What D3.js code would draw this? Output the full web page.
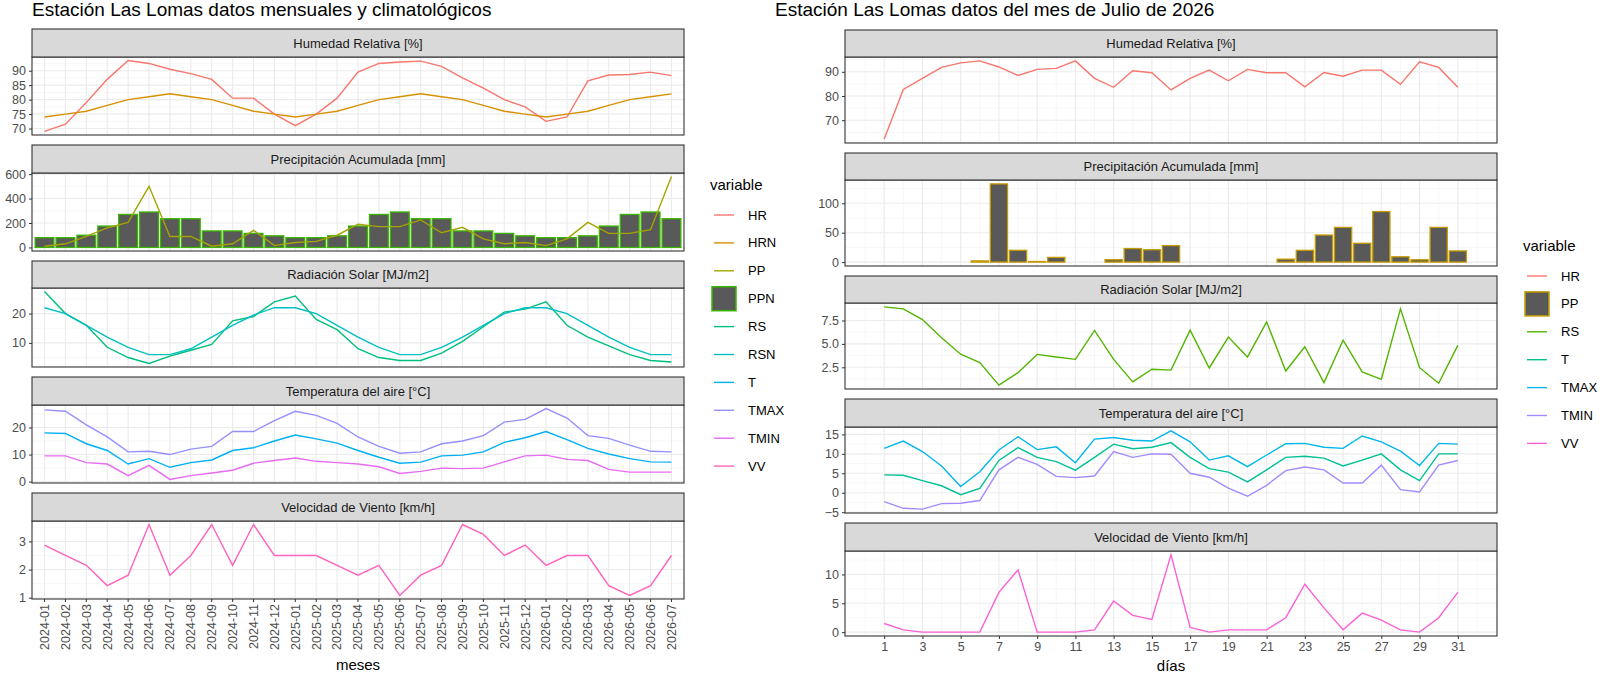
<!DOCTYPE html>
<html><head><meta charset="utf-8">
<script src="https://cdn.jsdelivr.net/npm/d3@7"></script>
<style>body{margin:0;background:#fff}svg{font-family:"Liberation Sans",Arial,sans-serif}</style>
</head><body><svg id="c" width="1600" height="676"></svg>
<script>
// ---- monthly data (left) ----
const months = ["2024-01","2024-02","2024-03","2024-04","2024-05","2024-06","2024-07","2024-08","2024-09","2024-10","2024-11","2024-12","2025-01","2025-02","2025-03","2025-04","2025-05","2025-06","2025-07","2025-08","2025-09","2025-10","2025-11","2025-12","2026-01","2026-02","2026-03","2026-04","2026-05","2026-06","2026-07"];
const mHR  = [69,71.5,79,87,93.5,92.5,90.5,89,87,80.5,80.5,75,71,75,80.5,89.5,92.5,93,93.3,91.5,87.5,84,80,77.5,72.5,74,86.5,88.5,88.7,89.5,88.3];
const mHRN = [74,75,76,78,80,81,82,81,80,78,76,75,74,75,76,78,80,81,82,81,80,78,76,75,74,75,76,78,80,81,82];
const mPP  = [10,30,90,160,205,500,90,90,10,30,140,15,40,50,100,190,170,170,225,120,165,70,30,40,15,70,205,115,115,145,580];
const mPPN = [80,80,100,175,270,290,235,235,135,135,115,95,80,80,95,175,270,290,235,235,135,135,115,95,80,80,95,175,270,290,235];
const mRS  = [27.5,20,16,8.5,5,3,5.5,7.5,9.5,17.5,19,24,26,18,14.5,8,5,4,4,6.5,10.5,15.5,20.5,21.5,24,16,12,9,6,4,3.5];
const mRSN = [22,20,16,12,8.5,6,6,8,12,16,19.5,22,22,20,16,12,8.5,6,6,8.5,12,16,20,22,22,20,16,12,8.5,6,6];
const mT    = [18,17.8,14,11.5,6.5,8.5,5.3,7,8,11.5,12.5,15,17.2,15.8,14.2,11.5,9,6.8,7.2,9.5,9.8,11,14.5,16.2,18.5,15.5,12.3,10.2,8.5,7.3,7.2];
const mTMAX = [26.5,26,21,16.5,11,11.2,10,12,13,18.5,18.5,22.5,26,24.5,21.5,16.5,13,10.5,11,14,15,17,22,23,27,23.5,17,16,13.5,11.2,11];
const mTMIN = [9.5,9.5,7,6.5,2.2,6,0.8,2.2,3.2,4.2,6.8,7.8,8.7,7.5,7,6.5,5.5,3,3.8,5,4.8,5,7.3,9.5,9.8,8.2,7.8,4.5,3.5,3.5,3.5];
const mVV  = [2.87,2.5,2.15,1.43,1.8,3.6,1.8,2.5,3.6,2.15,3.6,2.5,2.5,2.5,2.15,1.8,2.15,1.08,1.8,2.15,3.6,3.25,2.5,2.87,2.15,2.5,2.5,1.43,1.08,1.43,2.5];

// ---- daily data (right) ----
const days = d3.range(1, 32);
const dHR = [62.2,82.7,87.3,91.8,93.7,94.5,92,88.5,91,91.4,94.5,87.3,83.6,90.4,89.6,82.5,87.3,90.7,86.3,91,89.6,89.6,83.8,89.7,88.2,90.7,90.7,84.8,94.1,91.8,83.6];
const dPP = [0,0,0,0,0,2,133,20,1,8,0,0,4,23,21,28,0,0,0,0,0,5,20,46,59,32,86,9,4,59,19];
const dRS = [8.95,8.74,7.6,5.66,3.9,3.0,0.6,1.93,3.88,3.6,3.35,6.44,3.35,0.94,2.29,2.2,6.47,2.43,5.73,3.6,7.36,2.1,4.7,0.87,5.4,2.0,1.22,8.74,2.46,0.8,4.84];
const dT    = [4.6,4.5,3.1,1.8,-0.5,1.1,8.3,11.6,9.1,8,5.8,9.1,12.5,11.3,11.7,12.9,9.1,6.2,5.3,2.8,5.9,9.1,9.4,8.9,6.9,8.4,10,5.9,3.1,10,10];
const dTMAX = [11.4,13.3,10.6,6.9,1.6,5.4,11,14.4,11.1,11.8,7.7,13.8,14.2,13.5,13.3,15.9,13.1,8.4,9.5,6.7,9.7,12.6,12.7,11.7,11.4,14.6,13.1,10.7,7,12.7,12.5];
const dTMIN = [-2.3,-4,-4.2,-2.8,-2.7,-2,5.9,9.1,7.3,4.2,3.9,4.3,10.6,9.1,10,9.9,5,4,1.2,-0.9,1.9,5.7,6.6,5.9,2.5,2.5,7.1,0.8,0.2,7.1,8.3];
const dVV = [1.5,0.4,0,0,0,0,6.9,10.8,0,0,0,0.4,5.4,2.9,2.2,13.4,0.8,0,0.4,0.4,0.4,2.5,8.3,4.2,0.4,3.3,2.1,0.4,0,2.5,6.9];

const leftVars = ["HR","HRN","PP","PPN","RS","RSN","T","TMAX","TMIN","VV"];
const leftCols = ["#F8766D","#D89000","#A3A500","#39B600","#00BF7D","#00BFC4","#00B0F6","#9590FF","#E76BF3","#FF62BC"];
const rightVars = ["HR","PP","RS","T","TMAX","TMIN","VV"];
const rightCols = ["#F8766D","#C49A00","#53B400","#00C094","#00B6EB","#A58AFF","#FB61D7"];

const svg = d3.select("#c");
const cL = d3.scaleOrdinal(leftVars, leftCols);
const cR = d3.scaleOrdinal(rightVars, rightCols);

function yDomainOf(arrs, bars) {
  let all = arrs.flat(); if (bars) all = all.concat([0]);
  const [a, b] = d3.extent(all); const e = (b - a) * 0.05;
  return [a - e, b + e];
}

function panel(o) {
  const g = svg.append("g");
  const y = d3.scaleLinear().domain(o.yDomain).range([o.bottom, o.sb]);
  // background
  g.append("rect").attr("x", o.x0).attr("y", o.sb).attr("width", o.x1 - o.x0).attr("height", o.bottom - o.sb).attr("fill", "#fff");
  // minor y grid
  const tk = o.yTicks, step = tk[1] - tk[0];
  const minors = d3.range(tk[0] - step / 2, tk[tk.length - 1] + step, step).filter(v => v > o.yDomain[0] && v < o.yDomain[1]);
  g.selectAll(null).data(minors).join("line").attr("x1", o.x0).attr("x2", o.x1)
    .attr("y1", d => y(d)).attr("y2", d => y(d)).attr("stroke", "#F2F2F2").attr("stroke-width", 0.6);
  g.selectAll(null).data(o.xMinor).join("line").attr("y1", o.sb).attr("y2", o.bottom)
    .attr("x1", d => o.x(d)).attr("x2", d => o.x(d)).attr("stroke", "#F2F2F2").attr("stroke-width", 0.6);
  g.selectAll(null).data(tk).join("line").attr("x1", o.x0).attr("x2", o.x1)
    .attr("y1", d => y(d)).attr("y2", d => y(d)).attr("stroke", "#EBEBEB").attr("stroke-width", 1.1);
  g.selectAll(null).data(o.xMajor).join("line").attr("y1", o.sb).attr("y2", o.bottom)
    .attr("x1", d => o.x(d)).attr("x2", d => o.x(d)).attr("stroke", "#EBEBEB").attr("stroke-width", 1.1);
  // bars
  (o.bars || []).forEach(b => {
    g.selectAll(null).data(b.vals).join("rect")
      .attr("x", (d, i) => o.x(o.xs[i]) - o.bw / 2).attr("width", o.bw)
      .attr("y", d => y(Math.max(d, 0))).attr("height", d => Math.abs(y(0) - y(d)))
      .attr("fill", "#595959").attr("stroke", b.col).attr("stroke-width", 1.3);
  });
  // lines
  const ln = d3.line().x((d, i) => o.x(o.xs[i])).y(d => y(d));
  (o.lines || []).forEach(l => {
    g.append("path").attr("d", ln(l.vals)).attr("fill", "none").attr("stroke", l.col).attr("stroke-width", 1.4);
  });
  // border
  g.append("rect").attr("x", o.x0).attr("y", o.sb).attr("width", o.x1 - o.x0).attr("height", o.bottom - o.sb)
    .attr("fill", "none").attr("stroke", "#333").attr("stroke-width", 1.1);
  // strip
  g.append("rect").attr("x", o.x0).attr("y", o.top).attr("width", o.x1 - o.x0).attr("height", o.sb - o.top)
    .attr("fill", "#D9D9D9").attr("stroke", "#333").attr("stroke-width", 1.1);
  g.append("text").attr("x", (o.x0 + o.x1) / 2).attr("y", (o.top + o.sb) / 2).attr("dy", "0.35em")
    .attr("text-anchor", "middle").attr("font-size", 13).attr("fill", "#1a1a1a").text(o.title);
  // y axis
  const ax = g.append("g").attr("transform", `translate(${o.x0},0)`)
    .call(d3.axisLeft(y).tickValues(tk).tickSize(3).tickSizeOuter(0).tickFormat(o.fmt || d3.format("d")));
  ax.select(".domain").remove();
  ax.selectAll("line").attr("stroke", "#333");
  ax.selectAll("text").attr("font-size", 12.5).attr("fill", "#4D4D4D").attr("font-family", "Liberation Sans, Arial, sans-serif");
  return g;
}

// ---- left facets ----
const LX0 = 32, LX1 = 684;
const xL = d3.scaleLinear().domain([0.4, 31.6]).range([LX0, LX1]);
const idx = d3.range(1, 32);
const Lrows = [[29,57,135],[145,173,251],[261,288,367],[377,405,483],[493,521,599]];
const leftBase = { x0: LX0, x1: LX1, x: xL, xs: idx, xMajor: idx, xMinor: [], bw: 0.9 * (xL(2) - xL(1)) };
const lp = [
  { title: "Humedad Relativa [%]", yDomain: yDomainOf([mHR, mHRN]), yTicks: [70,75,80,85,90],
    lines: [{ vals: mHR, col: cL("HR") }, { vals: mHRN, col: cL("HRN") }] },
  { title: "Precipitación Acumulada [mm]", yDomain: yDomainOf([mPP, mPPN], true), yTicks: [0,200,400,600],
    bars: [{ vals: mPPN, col: cL("PPN") }], lines: [{ vals: mPP, col: cL("PP") }] },
  { title: "Radiación Solar [MJ/m2]", yDomain: yDomainOf([mRS, mRSN]), yTicks: [10,20],
    lines: [{ vals: mRS, col: cL("RS") }, { vals: mRSN, col: cL("RSN") }] },
  { title: "Temperatura del aire [°C]", yDomain: yDomainOf([mT, mTMAX, mTMIN]), yTicks: [0,10,20],
    lines: [{ vals: mTMAX, col: cL("TMAX") }, { vals: mT, col: cL("T") }, { vals: mTMIN, col: cL("TMIN") }] },
  { title: "Velocidad de Viento [km/h]", yDomain: yDomainOf([mVV]), yTicks: [1,2,3],
    lines: [{ vals: mVV, col: cL("VV") }] }
];
lp.forEach((p, i) => panel(Object.assign({}, leftBase, p, { top: Lrows[i][0], sb: Lrows[i][1], bottom: Lrows[i][2] })));
// left x axis
const lxa = svg.append("g").attr("transform", "translate(0,599)");
lxa.selectAll(null).data(idx).join("line").attr("x1", d => xL(d)).attr("x2", d => xL(d)).attr("y1", 0).attr("y2", 3).attr("stroke", "#333");
lxa.selectAll(null).data(idx).join("text").attr("font-size", 12.5).attr("fill", "#4D4D4D")
  .attr("text-anchor", "end").attr("dy", "0.35em")
  .attr("transform", d => `translate(${xL(d)},5) rotate(-90)`).text((d, i) => months[i]);
svg.append("text").attr("x", (LX0 + LX1) / 2).attr("y", 670).attr("text-anchor", "middle").attr("font-size", 15).text("meses");
svg.append("text").attr("x", 32).attr("y", 16).attr("font-size", 19).text("Estación Las Lomas datos mensuales y climatológicos");

// ---- right facets ----
const RX0 = 845, RX1 = 1497;
const xR = d3.scaleLinear().domain([-1.05, 33.05]).range([RX0, RX1]);
const Rrows = [[30,57,143],[153,180,266],[276,303,389],[399,427,513],[523,551,636]];
const rightBase = { x0: RX0, x1: RX1, x: xR, xs: days, xMajor: d3.range(1, 32, 2), xMinor: d3.range(0, 33, 2), bw: 0.9 * (xR(2) - xR(1)) };
const rp = [
  { title: "Humedad Relativa [%]", yDomain: yDomainOf([dHR]), yTicks: [70,80,90], lines: [{ vals: dHR, col: cR("HR") }] },
  { title: "Precipitación Acumulada [mm]", yDomain: yDomainOf([dPP], true), yTicks: [0,50,100], bars: [{ vals: dPP, col: cR("PP") }] },
  { title: "Radiación Solar [MJ/m2]", yDomain: yDomainOf([dRS]), yTicks: [2.5,5,7.5], fmt: d3.format(".1f"), lines: [{ vals: dRS, col: cR("RS") }] },
  { title: "Temperatura del aire [°C]", yDomain: yDomainOf([dT, dTMAX, dTMIN]), yTicks: [-5,0,5,10,15],
    lines: [{ vals: dTMAX, col: cR("TMAX") }, { vals: dT, col: cR("T") }, { vals: dTMIN, col: cR("TMIN") }] },
  { title: "Velocidad de Viento [km/h]", yDomain: yDomainOf([dVV]), yTicks: [0,5,10], lines: [{ vals: dVV, col: cR("VV") }] }
];
rp.forEach((p, i) => panel(Object.assign({}, rightBase, p, { top: Rrows[i][0], sb: Rrows[i][1], bottom: Rrows[i][2] })));
const rxa = svg.append("g").attr("transform", "translate(0,636)")
  .call(d3.axisBottom(xR).tickValues(d3.range(1, 32, 2)).tickSize(3).tickSizeOuter(0).tickFormat(d3.format("d")));
rxa.select(".domain").remove();
rxa.selectAll("line").attr("stroke", "#333");
rxa.selectAll("text").attr("font-size", 12.5).attr("fill", "#4D4D4D").attr("font-family", "Liberation Sans, Arial, sans-serif");
svg.append("text").attr("x", (RX0 + RX1) / 2).attr("y", 671).attr("text-anchor", "middle").attr("font-size", 15).text("días");
svg.append("text").attr("x", 775).attr("y", 16).attr("font-size", 19).text("Estación Las Lomas datos del mes de Julio de 2026");

// ---- legends ----
function legend(x, yTitle, vars, color, barVar) {
  const g = svg.append("g");
  g.append("text").attr("x", x - 2).attr("y", yTitle).attr("dy", "0.35em").attr("font-size", 15).text("variable");
  vars.forEach((v, i) => {
    const yy = yTitle + 30 + i * 27.9;
    if (v === barVar) {
      g.append("rect").attr("x", x).attr("y", yy - 12).attr("width", 24).attr("height", 24)
        .attr("fill", "#595959").attr("stroke", color(v)).attr("stroke-width", 1.5);
    } else {
      g.append("line").attr("x1", x + 2).attr("x2", x + 22).attr("y1", yy).attr("y2", yy)
        .attr("stroke", color(v)).attr("stroke-width", 1.4);
    }
    g.append("text").attr("x", x + 36).attr("y", yy).attr("dy", "0.35em").attr("font-size", 13).text(v);
  });
}
legend(712, 185, leftVars, cL, "PPN");
legend(1525, 246, rightVars, cR, "PP");
</script></body></html>
